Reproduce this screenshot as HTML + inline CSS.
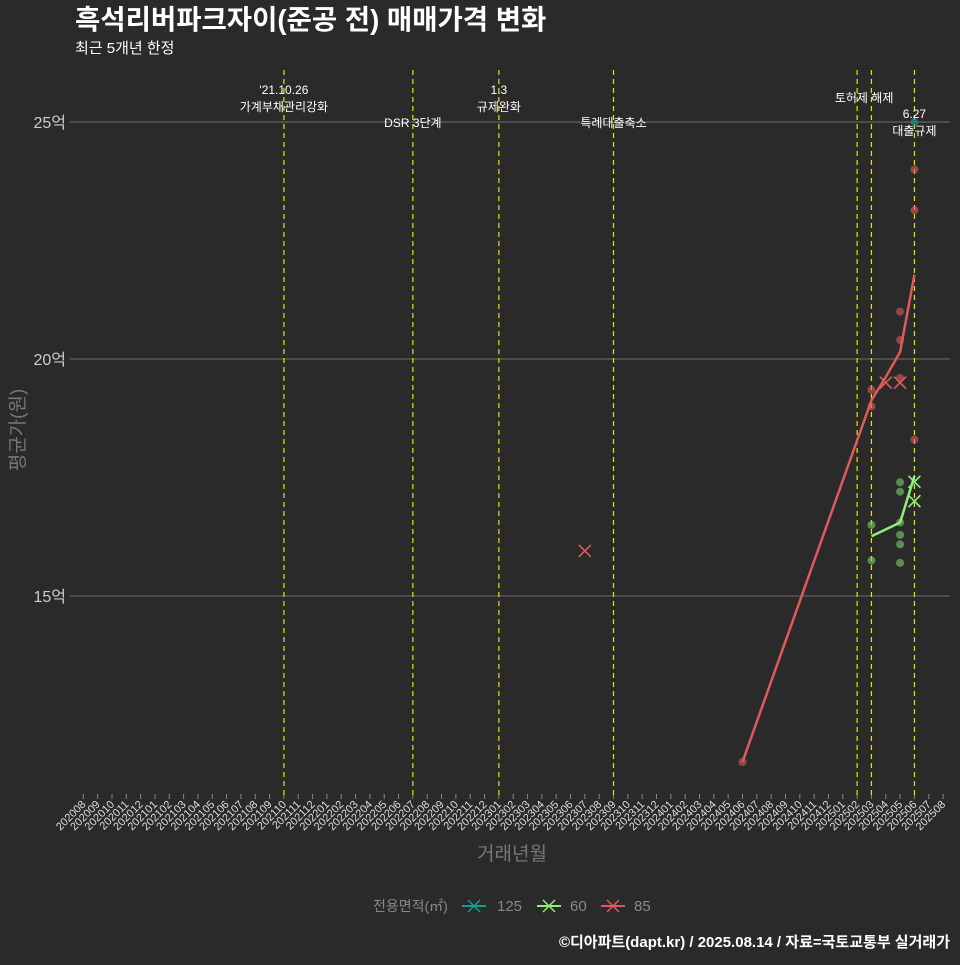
<!DOCTYPE html>
<html><head><meta charset="utf-8">
<style>
html,body{margin:0;padding:0;background:#2b2a2b;}
body{width:960px;height:960px;overflow:hidden;font-family:"Liberation Sans","Noto Sans CJK KR",sans-serif;}
svg text{font-family:"Liberation Sans","Noto Sans CJK KR",sans-serif;}
</style></head>
<body>
<svg id="chart" width="960" height="960" xmlns="http://www.w3.org/2000/svg">
<rect width="960" height="960" fill="#2b2a2b"/>
<text x="75" y="29" font-size="27.5" font-weight="bold" fill="#ffffff">흑석리버파크자이(준공 전) 매매가격 변화</text>
<text x="75" y="53" font-size="15" fill="#ffffff">최근 5개년 한정</text>
<text transform="translate(24,430) rotate(-90)" text-anchor="middle" font-size="19" fill="#777">평균가(원)</text>
<text x="512" y="860" text-anchor="middle" font-size="19" fill="#777">거래년월</text>
<g>
<text x="373" y="911" font-size="14" fill="#888">전용면적(㎡)</text>
<g><line x1="462" y1="906" x2="486" y2="906" stroke="#1a9a96" stroke-width="2"/><path d="M468 900 L480 912 M480 900 L468 912" stroke="#1a9a96" stroke-width="1.5"/><text x="497" y="911" font-size="15" fill="#888">125</text></g>
<g><line x1="537" y1="906" x2="561" y2="906" stroke="#90ee7a" stroke-width="2"/><path d="M543 900 L555 912 M555 900 L543 912" stroke="#90ee7a" stroke-width="1.5"/><text x="570" y="911" font-size="15" fill="#888">60</text></g>
<g><line x1="601" y1="906" x2="625" y2="906" stroke="#e05a5a" stroke-width="2"/><path d="M607 900 L619 912 M619 900 L607 912" stroke="#e05a5a" stroke-width="1.5"/><text x="634" y="911" font-size="15" fill="#888">85</text></g>
</g>
<text x="950" y="947" text-anchor="end" font-size="15" font-weight="bold" fill="#ffffff">©디아파트(dapt.kr) / 2025.08.14 / 자료=국토교통부 실거래가</text>
<g id="plot"></g>
</svg>
<script>
const months = [];
for (let y = 2020, m = 8; !(y === 2025 && m === 9); ) { months.push(String(y) + String(m).padStart(2, '0')); m++; if (m > 12) { m = 1; y++; } }
const yTicks = [15, 20, 25];
const yTickLabels = ['15억', '20억', '25억'];
const eventMonths = ['202110', '202207', '202301', '202309', '202502', '202503', '202506'];
const eventLabels = [["'21.10.26", '가계부채관리강화'], ['', 'DSR 3단계'], ['1.3', '규제완화'], ['', '특례대출축소'], ['', '토허제 해제'], ['', ''], ['6.27', '대출규제']];
const line85Months = ['202406', '202503', '202504', '202505', '202506'];
const line85Values = [11.5, 19.13, 19.62, 20.15, 21.78];
const line60Months = ['202503', '202505', '202506'];
const line60Values = [16.26, 16.55, 17.53];
const pts85Months = ['202406', '202503', '202503', '202505', '202505', '202505', '202506', '202506', '202506'];
const pts85Values = [11.5, 19.35, 19.0, 21.0, 20.4, 19.6, 24.0, 23.14, 18.3];
const pts60Months = ['202503', '202503', '202505', '202505', '202505', '202505', '202505', '202505'];
const pts60Values = [16.5, 15.75, 17.4, 17.2, 16.55, 16.29, 16.09, 15.7];
const pts125Months = ['202506'];
const pts125Values = [25.0];
const x85Months = ['202307', '202504', '202505'];
const x85Values = [15.95, 19.5, 19.5];
const x60Months = ['202506', '202506'];
const x60Values = [17.41, 17.0];

const NS = 'http://www.w3.org/2000/svg';
const plot = document.getElementById('plot');
const xs = m => 83.3 + months.indexOf(m) * 14.33;
const ys = v => 359 - (v - 20) * 47.4;
function mk(tag, attrs, parent) { const e = document.createElementNS(NS, tag); for (const k in attrs) e.setAttribute(k, attrs[k]); (parent || plot).appendChild(e); return e; }

yTicks.forEach((v, i) => {
  const g = mk('line', {x1: 70, x2: 950, y1: ys(v), y2: ys(v), stroke: '#707070', 'stroke-width': 1});
  
  
  const t = mk('text', {x: 66, y: ys(v) + 6, 'text-anchor': 'end', 'font-size': 16, fill: '#cccccc'});
  t.textContent = yTickLabels[i];
  
  
});
months.forEach(m => {
  const x = xs(m);
  const tk = mk('line', {x1: x, x2: x, y1: 794, y2: 799, stroke: '#888', 'stroke-width': 1});
  
  
  const t = mk('text', {transform: `translate(${x + 3},${805}) rotate(-45)`, 'text-anchor': 'end', 'font-size': 11, fill: '#dddddd'});
  t.textContent = m;
  
  
});
eventMonths.forEach((m, i) => {
  const x = xs(m);
  const l = mk('line', {x1: x, x2: x, y1: 70, y2: 796, stroke: '#e6e600', 'stroke-width': 1.2, 'stroke-dasharray': '5,4'});
  
  
  const [a, b] = eventLabels[i];
  let ax = x, ay1 = 94, ay2 = 111;
  if (!a) { ay2 = 127; }
  if (m === '202502') { ax = x + 7; ay2 = 102; }
  if (m === '202506') { ay1 = 118; ay2 = 135; }
  if (a) { const t = mk('text', {x: ax, y: ay1, 'text-anchor': 'middle', 'font-size': 12, fill: '#ffffff'}); t.textContent = a;   }
  if (b) { const t = mk('text', {x: ax, y: ay2, 'text-anchor': 'middle', 'font-size': 12, fill: '#ffffff'}); t.textContent = b;   }
});
function pts(ms, vs, color, name) {
  ms.forEach((m, i) => {
    const c = mk('circle', {cx: xs(m), cy: ys(vs[i]), r: 4, fill: color, 'fill-opacity': 0.6});
    
    
  });
}
function path(ms, vs, color, name) {
  const d = ms.map((m, i) => (i ? 'L' : 'M') + xs(m) + ' ' + ys(vs[i])).join(' ');
  const p = mk('path', {d: d, fill: 'none', stroke: color, 'stroke-width': 2.5});
  
  
}
function crosses(ms, vs, color, name) {
  ms.forEach((m, i) => {
    const x = xs(m), y = ys(vs[i]);
    const p = mk('path', {d: `M${x-6} ${y-6} L${x+6} ${y+6} M${x+6} ${y-6} L${x-6} ${y+6}`, stroke: color, 'stroke-width': 1.6});
    
    
  });
}
pts(pts85Months, pts85Values, '#e05a5a', 'point-85');
pts(pts60Months, pts60Values, '#7ccf6a', 'point-60');
pts(pts125Months, pts125Values, '#1a9a96', 'point-125');
path(line85Months, line85Values, '#e05a5a', 'line-85');
path(line60Months, line60Values, '#90ee7a', 'line-60');
crosses(x85Months, x85Values, '#e05a5a', 'marker-85');
crosses(x60Months, x60Values, '#90ee7a', 'marker-60');
</script>
</body></html>
